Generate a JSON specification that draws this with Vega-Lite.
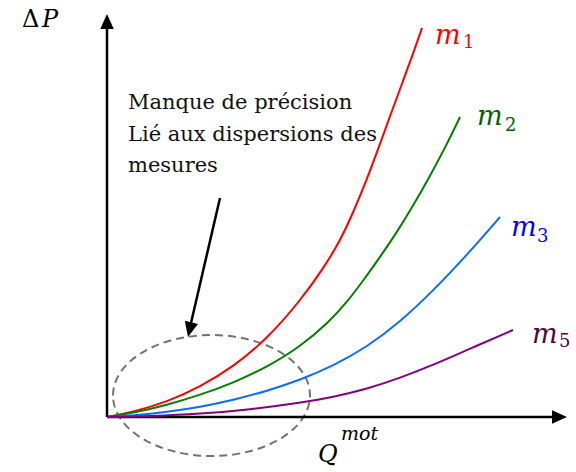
{
  "$schema": "https://vega.github.io/schema/vega-lite/v6.json",
  "width": 576,
  "height": 472,
  "autosize": {"type": "fit", "contains": "padding"},
  "padding": 0,
  "background": "white",
  "config": {"view": {"stroke": null}, "text": {"font": "DejaVu Serif"}},
  "resolve": {"scale": {"color": "independent"}},
  "encoding": {
    "x": {"field": "x", "type": "quantitative", "scale": {"domain": [-107, 469], "nice": false, "zero": false}, "axis": null},
    "y": {"field": "y", "type": "quantitative", "scale": {"domain": [-55, 417], "nice": false, "zero": false}, "axis": null}
  },
  "layer": [
    {
      "data": {"values": [{"x": 104.5, "y": 21.5}]},
      "mark": {"type": "point", "filled": false, "opacity": 1, "stroke": "#737373", "strokeWidth": 2, "strokeDash": [8, 5], "size": 38809,
        "shape": "M -1 0 C -1 -0.339 -0.5523 -0.614 0 -0.614 C 0.5523 -0.614 1 -0.339 1 0 C 1 0.339 0.5523 0.614 0 0.614 C -0.5523 0.614 -1 0.339 -1 0 Z"}
    },
    {
      "data": {"values": [{"x": 0, "y": 0, "x2": 0, "y2": 390}, {"x": 0, "y": 0, "x2": 448, "y2": 0}]},
      "mark": {"type": "rule", "color": "black", "strokeWidth": 2.5},
      "encoding": {"x2": {"field": "x2"}, "y2": {"field": "y2"}}
    },
    {
      "data": {"values": [{"x": 113, "y": 219, "x2": 84, "y2": 94}]},
      "mark": {"type": "rule", "color": "black", "strokeWidth": 2.5},
      "encoding": {"x2": {"field": "x2"}, "y2": {"field": "y2"}}
    },
    {
      "data": {"values": [{"x": 0, "y": 403}]},
      "mark": {"type": "point", "filled": true, "opacity": 1, "color": "black", "size": 900, "angle": 0, "shape": "M 0 0 L 0.45 1 L -0.45 1 Z"}
    },
    {
      "data": {"values": [{"x": 460, "y": 0}]},
      "mark": {"type": "point", "filled": true, "opacity": 1, "color": "black", "size": 900, "angle": 90, "shape": "M 0 0 L 0.45 1 L -0.45 1 Z"}
    },
    {
      "data": {"values": [{"x": 81, "y": 80}]},
      "mark": {"type": "point", "filled": true, "opacity": 1, "color": "black", "size": 900, "angle": 193, "shape": "M 0 0 L 0.45 1 L -0.45 1 Z"}
    },
    {
      "data": {"values": [
        {"curve": "m1", "x": 0, "y": 0}, {"curve": "m1", "x": 26, "y": 5}, {"curve": "m1", "x": 60, "y": 15}, {"curve": "m1", "x": 93, "y": 30},
        {"curve": "m1", "x": 126, "y": 50}, {"curve": "m1", "x": 160, "y": 78}, {"curve": "m1", "x": 193, "y": 116}, {"curve": "m1", "x": 216, "y": 148},
        {"curve": "m1", "x": 233, "y": 176}, {"curve": "m1", "x": 246, "y": 204}, {"curve": "m1", "x": 260, "y": 238}, {"curve": "m1", "x": 273, "y": 273},
        {"curve": "m1", "x": 286, "y": 309}, {"curve": "m1", "x": 296, "y": 336}, {"curve": "m1", "x": 306, "y": 363}, {"curve": "m1", "x": 315, "y": 389},
        {"curve": "m2", "x": 0, "y": 0}, {"curve": "m2", "x": 26, "y": 4}, {"curve": "m2", "x": 60, "y": 12}, {"curve": "m2", "x": 93, "y": 22},
        {"curve": "m2", "x": 126, "y": 34}, {"curve": "m2", "x": 160, "y": 50}, {"curve": "m2", "x": 193, "y": 70}, {"curve": "m2", "x": 223, "y": 96},
        {"curve": "m2", "x": 240, "y": 115}, {"curve": "m2", "x": 256, "y": 136}, {"curve": "m2", "x": 273, "y": 160}, {"curve": "m2", "x": 290, "y": 185},
        {"curve": "m2", "x": 306, "y": 211}, {"curve": "m2", "x": 323, "y": 241}, {"curve": "m2", "x": 340, "y": 273}, {"curve": "m2", "x": 353, "y": 300},
        {"curve": "m3", "x": 0, "y": 0}, {"curve": "m3", "x": 26, "y": 1.5}, {"curve": "m3", "x": 60, "y": 5}, {"curve": "m3", "x": 93, "y": 10},
        {"curve": "m3", "x": 126, "y": 17}, {"curve": "m3", "x": 160, "y": 26}, {"curve": "m3", "x": 193, "y": 37}, {"curve": "m3", "x": 226, "y": 51},
        {"curve": "m3", "x": 260, "y": 70}, {"curve": "m3", "x": 293, "y": 95}, {"curve": "m3", "x": 326, "y": 126}, {"curve": "m3", "x": 360, "y": 162},
        {"curve": "m3", "x": 393, "y": 200},
        {"curve": "m5", "x": 0, "y": 0}, {"curve": "m5", "x": 43, "y": 0.8}, {"curve": "m5", "x": 93, "y": 3}, {"curve": "m5", "x": 143, "y": 7.5},
        {"curve": "m5", "x": 193, "y": 14}, {"curve": "m5", "x": 226, "y": 20}, {"curve": "m5", "x": 260, "y": 28}, {"curve": "m5", "x": 293, "y": 39},
        {"curve": "m5", "x": 326, "y": 52}, {"curve": "m5", "x": 360, "y": 67}, {"curve": "m5", "x": 406, "y": 87}
      ]},
      "mark": {"type": "line", "strokeWidth": 2, "interpolate": "basis"},
      "encoding": {
        "color": {"field": "curve", "type": "nominal", "scale": {"domain": ["m1", "m2", "m3", "m5"], "range": ["#ff0000", "#008000", "#0a6cff", "#800080"]}, "legend": null}
      }
    },
    {
      "data": {"values": [
        {"curve": "m1", "x": 328, "y": 373, "t": "m"},
        {"curve": "m2", "x": 370, "y": 292, "t": "m"},
        {"curve": "m3", "x": 404, "y": 181, "t": "m"},
        {"curve": "m5", "x": 425, "y": 74, "t": "m"}
      ]},
      "mark": {"type": "text", "align": "left", "baseline": "alphabetic", "fontStyle": "italic", "fontSize": 27},
      "encoding": {
        "text": {"field": "t"},
        "color": {"field": "curve", "type": "nominal", "scale": {"domain": ["m1", "m2", "m3", "m5"], "range": ["#ff0000", "#006400", "#0000ff", "#550044"]}, "legend": null}
      }
    },
    {
      "data": {"values": [
        {"curve": "m1", "x": 356, "y": 369, "t": "1"},
        {"curve": "m2", "x": 398, "y": 286, "t": "2"},
        {"curve": "m3", "x": 430, "y": 175, "t": "3"},
        {"curve": "m5", "x": 452, "y": 70, "t": "5"}
      ]},
      "mark": {"type": "text", "align": "left", "baseline": "alphabetic", "fontSize": 18},
      "encoding": {
        "text": {"field": "t"},
        "color": {"field": "curve", "type": "nominal", "scale": {"domain": ["m1", "m2", "m3", "m5"], "range": ["#ff0000", "#006400", "#0000ff", "#550044"]}, "legend": null}
      }
    },
    {
      "data": {"values": [{"x": 21, "y": 308, "t": "Manque de précision\nLié aux dispersions des\nmesures"}]},
      "mark": {"type": "text", "align": "left", "baseline": "alphabetic", "fontSize": 21, "lineHeight": 31.5, "lineBreak": "\n", "color": "#111111"},
      "encoding": {"text": {"field": "t"}}
    },
    {
      "data": {"values": [{"x": -85, "y": 390, "t": "Δ"}]},
      "mark": {"type": "text", "align": "left", "baseline": "alphabetic", "fontSize": 24, "color": "black"},
      "encoding": {"text": {"field": "t"}}
    },
    {
      "data": {"values": [{"x": -65, "y": 390, "t": "P"}, {"x": 211, "y": -45, "t": "Q"}]},
      "mark": {"type": "text", "align": "left", "baseline": "alphabetic", "fontStyle": "italic", "fontSize": 24, "color": "black"},
      "encoding": {"text": {"field": "t"}}
    },
    {
      "data": {"values": [{"x": 234, "y": -23, "t": "mot"}]},
      "mark": {"type": "text", "align": "left", "baseline": "alphabetic", "fontStyle": "italic", "fontSize": 19, "color": "black"},
      "encoding": {"text": {"field": "t"}}
    }
  ]
}
